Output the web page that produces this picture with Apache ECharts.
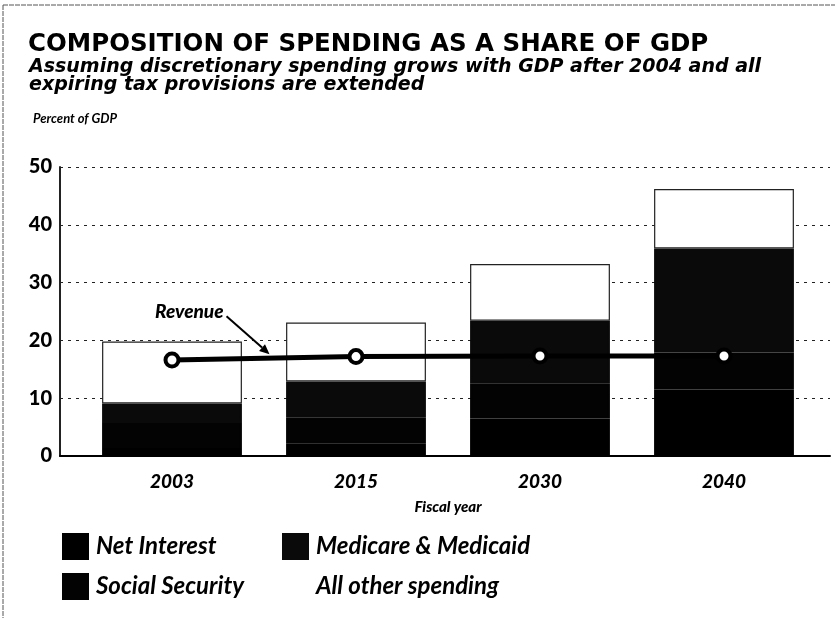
<!DOCTYPE html>
<html><head><meta charset="utf-8">
<script src="https://cdn.jsdelivr.net/npm/echarts@6/dist/echarts.min.js"></script>
<style>html,body{margin:0;padding:0;background:#fff}#c{width:835px;height:618px}</style>
</head><body><div id="c"></div>
<script>
const years = ['2003', '2015', '2030', '2040'];
const netInterest = [1.4, 2.2, 6.5, 11.5];
const socialSecurity = [4.3, 4.4, 6.1, 6.4];
const medicareMedicaid = [3.4, 6.3, 10.8, 18.0];
const allOther = [10.7, 10.2, 9.8, 10.3];
const revenue = [16.6, 17.2, 17.3, 17.3];
const yMin = 0, yMax = 50, yStep = 10;

const FONT = 'Lato, "DejaVu Sans", sans-serif';
const WIDE = '"DejaVu Sans", Lato, sans-serif';
const chart = echarts.init(document.getElementById('c'), null, {renderer: 'canvas'});

const barBase = {type: 'bar', stack: 'spend', xAxisIndex: 0, yAxisIndex: 0, barWidth: '76%'};
const darkBar = c => ({color: c, borderColor: c, borderWidth: 2});
const legendBase = {
  orient: 'vertical', top: 528, icon: 'rect',
  itemWidth: 27, itemHeight: 27, itemGap: 13,
  itemStyle: {borderWidth: 0},
  textStyle: {fontFamily: FONT, fontSize: 24, fontWeight: 'bold', fontStyle: 'italic', color: '#000', padding: [0, 0, 0, 2]}
};

const option = {
  backgroundColor: '#fff',
  animation: false,
  title: [
    {
      text: 'COMPOSITION OF SPENDING AS A SHARE OF GDP',
      left: 23, top: 27,
      textStyle: {fontFamily: WIDE, fontSize: 24.5, fontWeight: 'bold', color: '#000'}
    },
    {
      text: 'Assuming discretionary spending grows with GDP after 2004 and all\nexpiring tax provisions are extended',
      left: 24, top: 53,
      textStyle: {fontFamily: WIDE, fontSize: 19, fontWeight: 'bold', fontStyle: 'italic', color: '#000', lineHeight: 18}
    },
    {
      text: 'Percent of GDP',
      left: 28, top: 107,
      textStyle: {fontFamily: FONT, fontSize: 13, fontWeight: 'bold', fontStyle: 'italic', color: '#000'}
    }
  ],
  legend: [
    Object.assign({}, legendBase, {data: ['Net Interest', 'Social Security'], left: 57}),
    Object.assign({}, legendBase, {data: ['Medicare & Medicaid', 'All other spending'], left: 277})
  ],
  grid: [
    {left: 80, right: 19, top: 167, bottom: 162},
    {left: 60, right: 5, top: 167, bottom: 162}
  ],
  xAxis: [
    {
      gridIndex: 0, type: 'category', data: years,
      axisLine: {show: false}, axisTick: {show: false},
      axisLabel: {fontFamily: FONT, fontSize: 19, fontWeight: 900, fontStyle: 'italic', color: '#000', margin: 16},
      name: 'Fiscal year', nameLocation: 'middle', nameGap: 44,
      nameTextStyle: {fontFamily: FONT, fontSize: 15, fontWeight: 900, fontStyle: 'italic', color: '#000'}
    },
    {
      gridIndex: 1, type: 'value', min: 0, max: 1,
      axisLine: {show: true, onZero: false, lineStyle: {color: '#000', width: 2}},
      axisTick: {show: false}, axisLabel: {show: false}, splitLine: {show: false}
    }
  ],
  yAxis: [
    {gridIndex: 0, type: 'value', min: yMin, max: yMax, interval: yStep, show: false},
    {
      gridIndex: 1, type: 'value', min: yMin, max: yMax, interval: yStep,
      axisLine: {show: true, lineStyle: {color: '#222', width: 2}},
      axisTick: {show: false},
      axisLabel: {fontFamily: FONT, fontSize: 20, fontWeight: 900, color: '#000', margin: 8},
      splitLine: {show: true, lineStyle: {type: [3, 5], color: '#222', width: 1}}
    }
  ],
  series: [
    Object.assign({}, barBase, {name: 'Net Interest', data: netInterest, itemStyle: darkBar('#000000')}),
    Object.assign({}, barBase, {name: 'Social Security', data: socialSecurity, itemStyle: darkBar('#030303')}),
    Object.assign({}, barBase, {name: 'Medicare & Medicaid', data: medicareMedicaid, itemStyle: darkBar('#0a0a0a')}),
    Object.assign({}, barBase, {name: 'All other spending', data: allOther, itemStyle: {color: '#fff', borderColor: '#222', borderWidth: 1.2}}),
    {
      name: 'Revenue', type: 'line', xAxisIndex: 0, yAxisIndex: 0, data: revenue,
      symbol: 'circle', symbolSize: 13, z: 5,
      lineStyle: {color: '#000', width: 5},
      itemStyle: {color: '#fff', borderColor: '#000', borderWidth: 4}
    }
  ]
};
chart.setOption(option);

// Revenue annotation, anchored to the data through the chart's own scale
const p0 = chart.convertToPixel({gridIndex: 0}, [0, revenue[0]]);
const p1 = chart.convertToPixel({gridIndex: 0}, [1, revenue[1]]);
const t = 0.53;
const tip = [p0[0] + t * (p1[0] - p0[0]), p0[1] + t * (p1[1] - p0[1]) - 4];
const tail = [tip[0] - 43, tip[1] - 38];
const ang = Math.atan2(tip[1] - tail[1], tip[0] - tail[0]);
const hl = 10, hw = 4.5;
const base = [tip[0] - hl * Math.cos(ang), tip[1] - hl * Math.sin(ang)];
const head = [
  tip,
  [base[0] + hw * Math.sin(ang), base[1] - hw * Math.cos(ang)],
  [base[0] - hw * Math.sin(ang), base[1] + hw * Math.cos(ang)]
];
chart.setOption({
  graphic: [
    {type: 'line', shape: {x1: 3, y1: 5, x2: 835, y2: 5}, style: {stroke: '#555', lineWidth: 1, lineDash: [5, 1]}, silent: true},
    {type: 'line', shape: {x1: 3, y1: 5, x2: 3, y2: 618}, style: {stroke: '#555', lineWidth: 1, lineDash: [5, 1]}, silent: true},
    {type: 'line', shape: {x1: tail[0], y1: tail[1], x2: base[0], y2: base[1]}, style: {stroke: '#000', lineWidth: 2}, z: 10},
    {type: 'polygon', shape: {points: head}, style: {fill: '#000'}, z: 10},
    {type: 'text', x: tail[0] - 3, y: tail[1] - 4, z: 10,
      style: {text: 'Revenue', fontFamily: FONT, fontSize: 19, fontWeight: 900, fontStyle: 'italic', fill: '#000', align: 'right', verticalAlign: 'middle'}}
  ]
});
</script></body></html>
